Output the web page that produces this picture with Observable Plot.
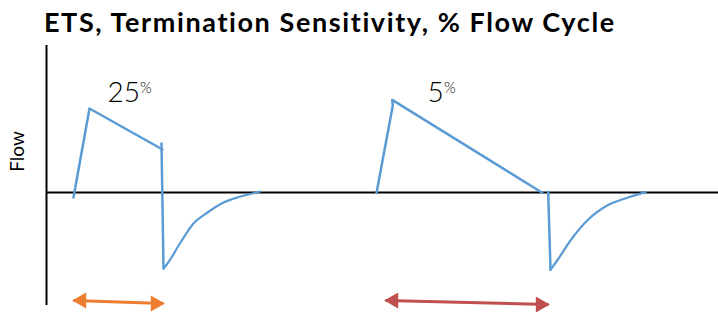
<!DOCTYPE html>
<html>
<head>
<meta charset="utf-8">
<script src="https://cdn.jsdelivr.net/npm/d3@7"></script>
<script src="https://cdn.jsdelivr.net/npm/@observablehq/plot@0.6"></script>
<style>
  html, body { margin: 0; padding: 0; background: #fff; }
  #title { height: 40px; font-family: Lato, "Open Sans", sans-serif; font-weight: bold; font-size: 27px;
           letter-spacing: 1.6px; line-height: 27px; padding-left: 44px; box-sizing: border-box; padding-top: 8px;
           color: #000; white-space: nowrap; }
</style>
</head>
<body>
<div id="title">ETS, Termination Sensitivity, % Flow Cycle</div>
<div id="chart"></div>
<script>
// Time (arbitrary units) and flow (arbitrary units)
const inspiration1 = [[0.27, -2.5], [0.43, 42], [1.16, 21.5]];
const expiration1 = [[1.15, 24.5], [1.17, -38]];
const recovery1 = [[1.17, -38], [1.21, -35.5], [1.34, -25], [1.47, -15.5], [1.61, -10], [1.77, -5], [1.94, -2], [2.14, 0.5]];
const inspiration2 = [[3.30, -0.2], [3.463, 43.5], [3.457, 46.3], [4.957, -0.1]];
const expiration2 = [[5.017, 0.2], [5.04, -38.6]];
const recovery2 = [[5.04, -38.6], [5.107, -34], [5.24, -24], [5.407, -14], [5.607, -6.5], [5.807, -2.6], [5.99, 0.2]];

const cycleLabels = [
  {value: "25", pct: "%", t: 0.61, tp: 0.935, f: 55},
  {value: "5", pct: "%", t: 3.81, tp: 3.975, f: 55}
];
const arrows = [
  {t1: 0.27, f1: -54, t2: 1.17, f2: -55.5, color: "#ED7D31"},
  {t1: 3.39, f1: -54, t2: 5.02, f2: -56, color: "#C0504D"}
];

const blue = "#5B9BD5";
const toRows = (pts, id) => pts.map(([t, f]) => ({t, f, id}));
const straight = [
  ...toRows(inspiration1, "i1"), ...toRows(expiration1, "e1"),
  ...toRows(inspiration2, "i2"), ...toRows(expiration2, "e2")
];
const curved = [...toRows(recovery1, "r1"), ...toRows(recovery2, "r2")];
const font = "Lato, 'Open Sans', sans-serif";

const chart = Plot.plot({
  width: 718,
  height: 272,
  marginLeft: 46,
  marginRight: 0,
  marginTop: 5,
  marginBottom: 7,
  x: {domain: [0, 6.72], axis: null},
  y: {domain: [-56.5, 73.5], axis: null},
  style: {background: "#fff", overflow: "visible"},
  marks: [
    Plot.ruleX([0], {stroke: "#000", strokeWidth: 2}),
    Plot.ruleY([0], {stroke: "#000", strokeWidth: 2}),
    Plot.line(straight, {x: "t", y: "f", z: "id", stroke: blue, strokeWidth: 2.5}),
    Plot.line(curved, {x: "t", y: "f", z: "id", stroke: blue, strokeWidth: 2.2, curve: "monotone-x"}),
    Plot.text(cycleLabels, {x: "t", y: "f", text: "value", textAnchor: "start", lineAnchor: "top",
      fontSize: 28, fontFamily: font, fontWeight: 300, fill: "#000"}),
    Plot.text(cycleLabels, {x: "tp", y: "f", text: "pct", textAnchor: "start", lineAnchor: "top",
      fontSize: 15, fontFamily: font, fontWeight: 300, fill: "#000"}),
    Plot.text(["Flow"], {x: 0, y: 20.5, dx: -23, text: d => d, rotate: -90, fontSize: 19,
      fontFamily: font, fill: "#000", lineAnchor: "bottom"}),
    Plot.link(arrows, {x1: "t1", y1: "f1", x2: "t2", y2: "f2", stroke: "color", strokeWidth: 3}),
    Plot.dot(arrows, {x: "t1", y: "f1", dx: 8, symbol: "triangle", r: 6, rotate: -90, fill: "color", stroke: null}),
    Plot.dot(arrows, {x: "t2", y: "f2", dx: -8, symbol: "triangle", r: 6, rotate: 90, fill: "color", stroke: null})
  ]
});
document.getElementById("chart").appendChild(chart);
</script>
</body>
</html>
